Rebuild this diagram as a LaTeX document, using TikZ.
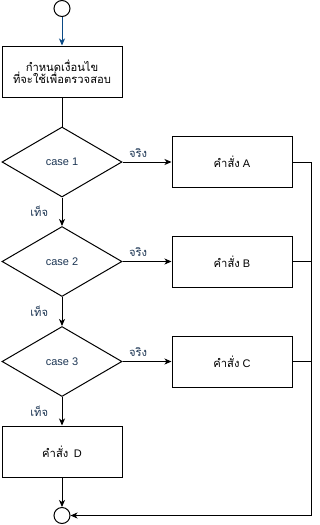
\documentclass[tikz,border=0pt]{standalone}
\usepackage{fontspec}
\setmainfont{Liberation Sans}
\newfontfamily\thaifont[Script=Thai,Scale=1.02]{Loma}
\usetikzlibrary{shapes.geometric,arrows.meta}

\definecolor{labelnavy}{HTML}{1C3553}
\definecolor{startblue}{HTML}{0B4A85}

\tikzset{
  flow/.style={line width=1pt,-{Stealth[length=7pt,width=6pt,inset=2pt]}},
  plain/.style={line width=1pt},
  stepbox/.style={draw,line width=1pt,minimum width=120pt,minimum height=51pt,inner sep=0pt,align=center},
  casebox/.style={draw,line width=1pt,diamond,minimum width=120pt,minimum height=70pt,inner sep=0pt,text=labelnavy},
  endpt/.style={draw,line width=1pt,circle,minimum size=16pt,inner sep=0pt},
  yesno/.style={text=labelnavy,font=\thaifont\fontsize{11}{12}\selectfont}
}

\begin{document}
\begin{tikzpicture}[x=1pt,y=-1pt,every node/.style={font=\fontsize{11}{13}\selectfont}]
\useasboundingbox (0,0) rectangle (320,525);

\node[endpt] (start) at (62,8.5) {};
\node[stepbox] (setup) at (62,71.5) {\thaifont กำหนดเงื่อนไข\\[-1pt]\thaifont ที่จะใช้เพื่อตรวจสอบ};

% three cases, each one with its own command box
\foreach \i/\y/\c in {1/162/A,2/261.5/B,3/361.5/C}{
 \node[casebox] (case\i) at (62,\y) {case \i};
 \node[stepbox] (cmd\c) at (232,\y) {{\thaifont คำสั่ง} \c};
 \draw[flow] (case\i.east) -- node[yesno,pos=0.32,above=1pt] {จริง} (cmd\c.west);}
\node[stepbox] (cmdD) at (62,451.5) {{\thaifont คำสั่ง}\enspace D};
\node[endpt] (stop) at (62,515.5) {};

\draw[flow,startblue] (start) -- (setup);
\draw[plain] (setup) -- (case1);
\draw[flow] (case1) -- node[yesno,left=10pt] {เท็จ} (case2);
\draw[flow] (case2) -- node[yesno,left=10pt] {เท็จ} (case3);
\draw[flow] (case3) -- node[yesno,left=10pt] {เท็จ} (cmdD);
\draw[flow] (cmdD) -- (stop);

% return rail on the right
\coordinate (rail) at (311,515.5);
\draw[flow] (cmdA.east) -| (rail) -- (stop.east);
\draw[plain] (cmdB.east) -- (cmdB.east -| rail);
\draw[plain] (cmdC.east) -- (cmdC.east -| rail);
\end{tikzpicture}
\end{document}
